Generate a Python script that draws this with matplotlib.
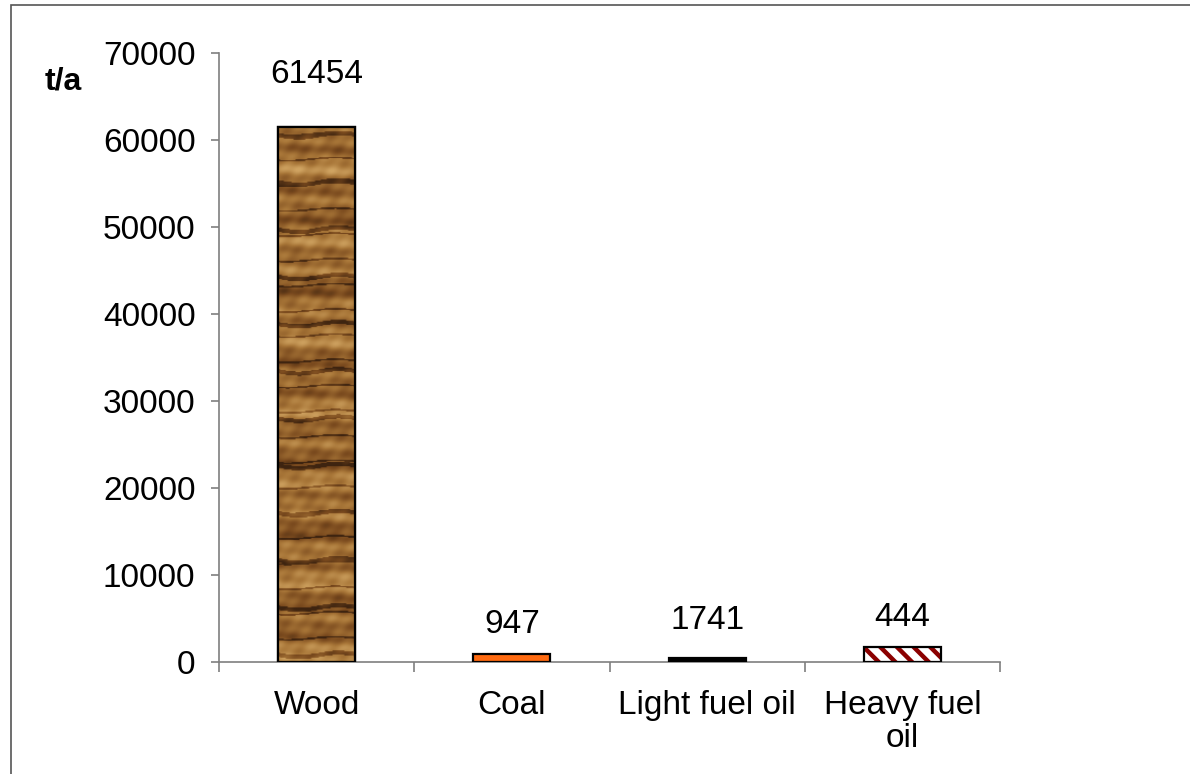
import numpy as np
import matplotlib
matplotlib.use("Agg")
import matplotlib.pyplot as plt
from matplotlib.patches import Rectangle
from matplotlib.colors import LinearSegmentedColormap

# ---- data ----
categories = ["Wood", "Coal", "Light fuel oil", "Heavy fuel\noil"]
bar_heights = [61454, 947, 444, 1741]          # visual bar heights (t/a)
label_texts = ["61454", "947", "1741", "444"]   # labels printed above bars
y_ticks = [0, 10000, 20000, 30000, 40000, 50000, 60000, 70000]
y_unit = "t/a"

plt.rcParams['font.family'] = ['Liberation Sans', 'DejaVu Sans']
plt.rcParams['hatch.linewidth'] = 3.2
FS = 24

fig = plt.figure(figsize=(11.9, 7.74), dpi=100)
ax = fig.add_axes([219/1190, 1-662/774, (1000-219)/1190, (662-53)/774])

x = np.arange(len(categories))
width = 0.395
colors = ["#9a6a33", "#ff6a10", "#000000", "#ffffff"]
bars = ax.bar(x, bar_heights, width=width, color=colors, edgecolor="black",
              linewidth=1.6, zorder=3)

# wood texture for the first bar
wb = bars[0]
rows = 500
yy = np.linspace(0, 1, rows)[:, None]
xx = np.linspace(0, 1, 40)[None, :]
tex = (0.58 + 0.14*np.sin(yy*97.0) + 0.10*np.sin(yy*233.0 + xx*2.0)
       + 0.10*np.sin(yy*41.0 + 1.3) + 0.06*np.sin(xx*13.0 + yy*60.0)
       + 0.05*np.sin(xx*29.0 - yy*150.0))
dark = (np.sin(yy*71.0 + 0.7 + 0.3*np.sin(xx*6.0)) > 0.96) | \
       (np.sin(yy*133.0 + 2.1 + 0.4*np.sin(xx*5.0 + 1.0)) > 0.975)
tex = np.where(dark, tex - 0.40, tex)
wood_cmap = LinearSegmentedColormap.from_list(
    "wood", ["#3e2410", "#7a4a1e", "#a87638", "#d0a462"])
x0 = wb.get_x(); x1 = x0 + wb.get_width()
im = ax.imshow(tex, cmap=wood_cmap, vmin=0.0, vmax=1.0, aspect="auto",
               extent=[x0, x1, 0, wb.get_height()], origin="lower",
               zorder=3.5, interpolation="bilinear")
im.set_clip_path(wb)
ax.add_patch(Rectangle((x0, 0), wb.get_width(), wb.get_height(),
                       fill=False, edgecolor="black", linewidth=1.6, zorder=4))

# heavy fuel oil hatch
hb = bars[3]
hb.set_hatch("\\\\")
hb.set_edgecolor("#8b0000")
hb.set_linewidth(0)
ax.add_patch(Rectangle((hb.get_x(), 0), hb.get_width(), hb.get_height(),
                       fill=False, edgecolor="black", linewidth=1.6, zorder=4))

# labels
offsets = [27, 10, 16, 10]
for b, t, off in zip(bars, label_texts, offsets):
    ax.annotate(t, (b.get_x() + b.get_width()/2, b.get_height()),
                xytext=(0, off), textcoords="offset points",
                ha="center", va="bottom", fontsize=FS, zorder=5)

ax.set_xlim(-0.5, len(categories) - 0.5)
ax.set_ylim(0, 70000)
ax.set_yticks(y_ticks)
ax.set_yticklabels([str(v) for v in y_ticks], fontsize=FS)

ax.set_xticks(np.arange(len(categories) + 1) - 0.5)
ax.set_xticklabels([])
ax.set_xticks(x, minor=True)
ax.set_xticklabels(categories, minor=True, fontsize=FS, linespacing=1.1)
ax.tick_params(axis="x", which="major", length=7, width=1.2, color="#7f7f7f",
               direction="out")
ax.tick_params(axis="x", which="minor", length=0, pad=20)
ax.tick_params(axis="y", length=6, width=1.2, color="#7f7f7f", direction="out",
               pad=11)

for s in ["top", "right"]:
    ax.spines[s].set_visible(False)
for s in ["left", "bottom"]:
    ax.spines[s].set_color("#7f7f7f")
    ax.spines[s].set_linewidth(1.2)

fig.text(45/1190, 1-82/774, y_unit, fontsize=FS-1, fontweight="bold",
         ha="left", va="center")

# outer frame (cropped)
fig.patches.append(Rectangle((11/1190, -0.1), 1.2, 1-5/774+0.1,
                             transform=fig.transFigure, fill=False,
                             edgecolor="#555555", linewidth=1.2))

fig.savefig("out.png", dpi=100)
